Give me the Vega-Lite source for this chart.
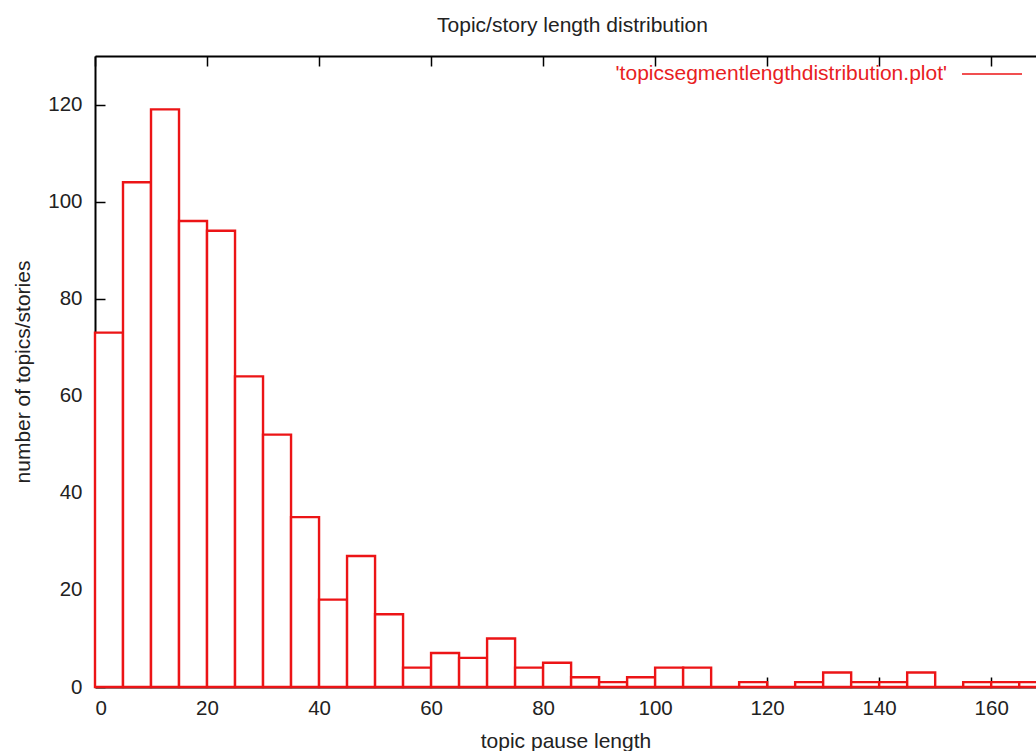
{
  "$schema": "https://vega.github.io/schema/vega-lite/v6.json",
  "width": 941,
  "height": 631,
  "autosize": {"type": "none"},
  "padding": {"left": 95, "top": 56, "right": 0, "bottom": 64},
  "background": "white",
  "config": {
    "view": {"stroke": null},
    "font": "Liberation Sans",
    "axis": {
      "grid": false,
      "domainColor": "black",
      "domainWidth": 2,
      "tickColor": "black",
      "tickWidth": 1.5,
      "tickSize": -10,
      "labelFont": "Liberation Sans",
      "labelFontSize": 20.5,
      "labelColor": "#222222",
      "titleFont": "Liberation Sans",
      "titleFontSize": 21,
      "titleFontWeight": "normal",
      "titleColor": "#222222"
    },
    "legend": {
      "labelFont": "Liberation Sans",
      "labelFontSize": 21,
      "labelColor": "#e8211f",
      "labelLimit": 0
    }
  },
  "title": {
    "text": "Topic/story length distribution",
    "font": "Liberation Sans",
    "fontSize": 21,
    "fontWeight": "normal",
    "color": "#222222",
    "anchor": "middle",
    "dx": 7,
    "offset": 7
  },
  "datasets": {
    "bins": [
      {"start": 0, "end": 5, "count": 73},
      {"start": 5, "end": 10, "count": 104},
      {"start": 10, "end": 15, "count": 119},
      {"start": 15, "end": 20, "count": 96},
      {"start": 20, "end": 25, "count": 94},
      {"start": 25, "end": 30, "count": 64},
      {"start": 30, "end": 35, "count": 52},
      {"start": 35, "end": 40, "count": 35},
      {"start": 40, "end": 45, "count": 18},
      {"start": 45, "end": 50, "count": 27},
      {"start": 50, "end": 55, "count": 15},
      {"start": 55, "end": 60, "count": 4},
      {"start": 60, "end": 65, "count": 7},
      {"start": 65, "end": 70, "count": 6},
      {"start": 70, "end": 75, "count": 10},
      {"start": 75, "end": 80, "count": 4},
      {"start": 80, "end": 85, "count": 5},
      {"start": 85, "end": 90, "count": 2},
      {"start": 90, "end": 95, "count": 1},
      {"start": 95, "end": 100, "count": 2},
      {"start": 100, "end": 105, "count": 4},
      {"start": 105, "end": 110, "count": 4},
      {"start": 110, "end": 115, "count": 0},
      {"start": 115, "end": 120, "count": 1},
      {"start": 120, "end": 125, "count": 0},
      {"start": 125, "end": 130, "count": 1},
      {"start": 130, "end": 135, "count": 3},
      {"start": 135, "end": 140, "count": 1},
      {"start": 140, "end": 145, "count": 1},
      {"start": 145, "end": 150, "count": 3},
      {"start": 150, "end": 155, "count": 0},
      {"start": 155, "end": 160, "count": 1},
      {"start": 160, "end": 165, "count": 1},
      {"start": 165, "end": 170, "count": 1}
    ]
  },
  "layer": [
    {
      "data": {"name": "bins"},
      "mark": {"type": "rule", "opacity": 0},
      "encoding": {
        "x": {
          "field": "start",
          "type": "quantitative",
          "scale": {"domain": [0, 168], "nice": false, "zero": false},
          "axis": {
            "orient": "top",
            "values": [0, 20, 40, 60, 80, 100, 120, 140, 160],
            "labels": false,
            "title": null
          }
        }
      }
    },
    {
      "data": {"name": "bins"},
      "mark": {"type": "rect", "fill": "white", "stroke": "#ec1416", "strokeWidth": 2.4},
      "encoding": {
        "x": {
          "field": "start",
          "type": "quantitative",
          "scale": {"domain": [0, 168], "nice": false, "zero": false},
          "axis": {
            "orient": "bottom",
            "values": [0, 20, 40, 60, 80, 100, 120, 140, 160],
            "labelPadding": 21,
            "title": "topic pause length",
            "titlePadding": 12
          }
        },
        "x2": {"field": "end"},
        "y": {
          "field": "count",
          "type": "quantitative",
          "scale": {"domain": [0, 130], "nice": false},
          "axis": {
            "values": [0, 20, 40, 60, 80, 100, 120],
            "labelPadding": 23,
            "title": "number of topics/stories",
            "titlePadding": 14
          }
        },
        "y2": {"datum": 0},
        "stroke": {
          "datum": "'topicsegmentlengthdistribution.plot'",
          "type": "nominal",
          "scale": {"range": ["#ec1416"]},
          "legend": {
            "title": null,
            "orient": "none",
            "legendX": 866,
            "legendY": -13,
            "padding": 0,
            "symbolType": "stroke",
            "symbolSize": 3600,
            "symbolStrokeWidth": 1.5,
            "labelAlign": "right",
            "labelOffset": -76
          }
        }
      }
    }
  ],
  "resolve": {"axis": {"x": "independent"}}
}
